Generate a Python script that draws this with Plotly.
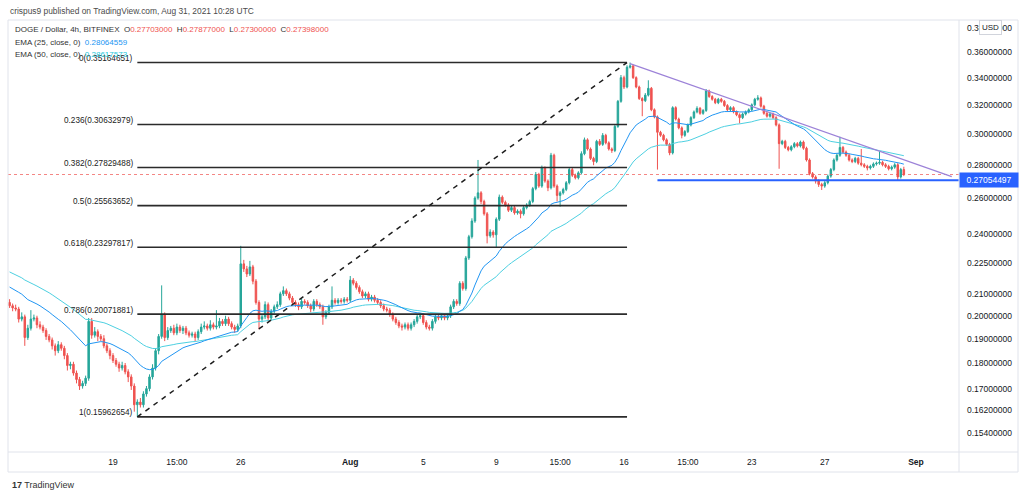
import math
import pandas as pd
import plotly.graph_objects as go

# ---------------- data ----------------
start_time = "2021-07-13 08:00"
first_open = 0.2060

closes = [
    0.2045, 0.2035, 0.2030, 0.1985, 0.1995, 0.1905, 0.1945, 0.1985, 0.1990, 0.1960,
    0.1950, 0.1935, 0.1910, 0.1895, 0.1870, 0.1850, 0.1875, 0.1860, 0.1830, 0.1790,
    0.1795, 0.1760, 0.1735, 0.1710, 0.1720, 0.1740, 0.1975, 0.1915, 0.1930, 0.1910,
    0.1900, 0.1870, 0.1850, 0.1830, 0.1810, 0.1795, 0.1780, 0.1790, 0.1765, 0.1745,
    0.1710, 0.1640, 0.1650, 0.1640, 0.1680, 0.1700, 0.1745, 0.1780, 0.1850, 0.1910,
    0.2005, 0.1905, 0.1935, 0.1945, 0.1925, 0.1950, 0.1935, 0.1945, 0.1925, 0.1915,
    0.1920, 0.1905, 0.1930, 0.1950, 0.1955, 0.1945, 0.1960, 0.1950, 0.1955, 0.1975,
    0.1965, 0.1985, 0.1965, 0.1950, 0.1940, 0.1955, 0.2245, 0.2220, 0.2195, 0.2230,
    0.2160, 0.2060, 0.1985, 0.1995, 0.2050, 0.1990, 0.2020, 0.2040, 0.2050, 0.2100,
    0.2115, 0.2100, 0.2080, 0.2060, 0.2050, 0.2040, 0.2065, 0.2060, 0.2045, 0.2030,
    0.2065, 0.2050, 0.2040, 0.1995, 0.2015, 0.2040, 0.2070, 0.2060, 0.2070, 0.2065,
    0.2075, 0.2070, 0.2165, 0.2150, 0.2130, 0.2110, 0.2090, 0.2100, 0.2075, 0.2085,
    0.2070, 0.2060, 0.2045, 0.2030, 0.2025, 0.2005, 0.1985, 0.1970, 0.1955, 0.1950,
    0.1960, 0.1945, 0.1960, 0.1975, 0.1995, 0.2000, 0.1970, 0.1950, 0.1945,
    0.1975, 0.1995, 0.1990, 0.2000, 0.1990, 0.2000, 0.2040, 0.2065, 0.2055, 0.2150,
    0.2125, 0.2275, 0.2385, 0.2470, 0.2600, 0.2630, 0.2580, 0.2510, 0.2390, 0.2410,
    0.2395, 0.2480, 0.2605, 0.2575, 0.2560, 0.2530, 0.2545, 0.2515, 0.2525, 0.2510,
    0.2545, 0.2560, 0.2580, 0.2655, 0.2740, 0.2670, 0.2780, 0.2700, 0.2660, 0.2860,
    0.2670, 0.2615, 0.2630, 0.2650, 0.2690, 0.2770, 0.2735, 0.2720, 0.2750, 0.2870,
    0.2960, 0.2900, 0.2840, 0.2820, 0.2950, 0.2930, 0.2990, 0.2940, 0.2900, 0.2890,
    0.3050, 0.3225, 0.3400, 0.3330, 0.3480, 0.3490, 0.3400, 0.3330, 0.3245, 0.3230,
    0.3270, 0.3320, 0.3165, 0.3115, 0.3010, 0.2990, 0.2960, 0.2930, 0.2875, 0.3180,
    0.3100, 0.3040, 0.2990, 0.3015, 0.3060, 0.3110, 0.3150, 0.3175, 0.3140, 0.3160,
    0.3300, 0.3260, 0.3240, 0.3215, 0.3240, 0.3225, 0.3195, 0.3165, 0.3180, 0.3150,
    0.3130, 0.3110, 0.3135, 0.3150, 0.3165, 0.3200, 0.3240, 0.3250, 0.3190, 0.3140,
    0.3120, 0.3135, 0.3110, 0.3060, 0.2935, 0.2950, 0.2910, 0.2895, 0.2915, 0.2935,
    0.2920, 0.2945, 0.2905, 0.2830, 0.2745, 0.2725, 0.2700, 0.2680, 0.2670, 0.2690,
    0.2730, 0.2770, 0.2830, 0.2860, 0.2910, 0.2880, 0.2860, 0.2830, 0.2820, 0.2840,
    0.2810, 0.2800, 0.2790, 0.2780, 0.2790, 0.2805, 0.2810, 0.2815, 0.2800, 0.2790, 0.2775,
    0.2785, 0.2800, 0.2725, 0.27703, 0.27398,
]

# wick lengths above / below the body, in thousandths of a dollar
up_wick = [
    1.5, 1, 1.5, 1, 2, 1, 1.5, 4, 1.5, 1,
    1.5, 1, 1, 1, 1, 1, 1.5, 1, 1, 1,
    1, 1, 1, 1, 1, 1, 1.5, 1.5, 2, 1,
    1, 1.5, 1, 1, 1, 1, 1, 1.5, 1, 1,
    1, 1, 1, 1.5, 1, 1, 1, 1.5, 1, 1,
    13.5, 1, 1.5, 1, 1.5, 1.5, 1, 1, 1, 1,
    1, 1, 1, 1.5, 2, 1, 2, 1, 7, 1.5,
    1, 1.5, 1, 1, 1, 1, 9.2, 2, 1.5, 3,
    1, 1, 1, 1, 1.5, 1, 1, 1, 1.5, 1,
    2, 1, 1, 1, 1, 1, 1.5, 1, 1, 1,
    1, 1, 1, 1, 1, 1, 6.5, 1, 1, 1,
    1, 1, 2, 1, 1, 1, 1, 1, 1, 1,
    1, 1, 1, 1, 1, 1, 1, 1, 1, 1,
    1, 1, 1, 1, 1, 1, 1, 1, 1,
    1, 1, 1, 1, 1, 1, 1, 1, 1, 1,
    1, 1, 1, 1.5, 1, 20, 1, 1, 1, 1.5,
    1, 1, 1.5, 1, 1, 1, 1, 1, 1, 1,
    1, 1, 1, 1, 1.5, 1, 1.5, 1, 1, 1.5,
    1, 1, 1, 1, 1, 1.5, 1, 1, 1, 1.5,
    1.5, 1, 1, 1, 1, 1.5, 1.5, 1, 1, 1,
    1, 1, 2, 1.5, 1.5, 2.65, 1, 1, 1, 1,
    1.5, 6, 1, 1, 1, 1, 1, 1, 1, 1,
    1, 1, 1, 1, 1, 1, 1, 1.5, 1, 1,
    1.5, 1, 1, 1, 1, 1, 1, 1, 1, 1,
    1, 1, 1, 1, 1, 1, 1, 2, 1, 1,
    1, 1, 1, 1, 1, 1, 1, 1, 1, 1,
    1, 1, 1, 1, 1, 1, 1, 1, 1, 1,
    1, 1, 1, 1, 7, 1, 1, 1, 1, 1,
    1, 9, 1, 1, 1, 1, 1, 7, 1, 1, 1,
    1, 1, 1, 1, 1.74,
]
down_wick = [
    1, 1.5, 1, 1.5, 1, 3.5, 1, 1, 1, 1.5,
    1, 1, 1.5, 1, 1.5, 2, 1, 1, 1.5, 2,
    1.5, 1, 1.5, 1.5, 1, 1, 1, 1.5, 1, 2,
    1, 1, 1, 1.5, 1, 1, 1.5, 1, 1, 2,
    1.5, 2.5, 4.4, 1, 1, 1, 1, 1, 1, 1.5,
    1, 1.5, 1, 1, 1, 1, 1, 1.5, 1, 1,
    1, 1.5, 1, 1, 1, 1, 1, 1, 1, 1,
    1, 1, 1, 1, 1.5, 1, 1, 1.5, 1.5, 1,
    1.5, 1, 4.5, 1.5, 1, 1.5, 1, 1, 1, 1,
    1, 1, 1, 1, 1, 1.5, 1, 1, 1, 1.5,
    1, 1, 1, 3.5, 1, 1, 1, 1, 1, 1,
    1, 1, 1, 1, 1, 1, 1, 1, 1, 1,
    1, 1, 1, 1, 1, 1, 1, 1, 1, 1.5,
    1, 1, 1, 1, 1, 1, 1, 1, 1,
    1, 1, 1, 1, 1, 1, 1, 1, 1, 1,
    1, 1, 1, 1, 1, 1, 1.5, 1, 4, 1,
    1.5, 6.5, 1, 1, 1, 1, 1, 1, 1, 2.5,
    1, 1, 1, 1, 1, 1, 1, 1, 2, 1,
    1, 3.5, 6.5, 1, 1, 1, 1, 1, 1, 1,
    1, 1, 1, 2.3, 1, 1, 1, 1, 1, 1.5,
    1, 1, 1, 1.5, 1, 1, 1, 1, 1, 11,
    1, 1, 1, 1, 24, 1, 1, 1, 1.5, 1,
    1, 1, 2, 1, 1, 1, 1, 1, 1, 1,
    1, 1, 1, 1, 1, 1, 1, 1, 1, 1,
    1, 4, 1, 1, 1, 1, 1, 1, 1, 1,
    1, 1, 1, 1, 16, 1, 1, 1, 1, 1,
    1, 1, 1, 1, 1, 1, 1.5, 1.5, 2.3, 1,
    1, 1, 1, 1, 1, 1, 1, 1, 1, 1,
    1, 1, 1, 1.5, 1, 1, 1, 1, 1, 1, 1,
    1, 1, 2, 1, 0.98,
]

ema25_seed = 0.2132   # EMA values at the first visible candle
ema50_seed = 0.2205

fib_labels = ["0", "0.236", "0.382", "0.5", "0.618", "0.786", "1"]
fib_prices = [0.35164651, 0.30632979, 0.27829488, 0.25563652,
              0.23297817, 0.20071881, 0.15962654]
fib_start = "2021-07-20 08:00"
fib_end = "2021-08-16 04:00"

trend_times = ["2021-08-16 08:00", "2021-09-02 23:00"]
trend_prices = [0.3508, 0.2727]

support_price = 0.27054497
support_start = "2021-08-17 20:00"
last_price = 0.27398

y_tick_values = [0.154, 0.162, 0.17, 0.18, 0.19, 0.20, 0.21, 0.225,
                 0.24, 0.26, 0.28, 0.30, 0.32, 0.34, 0.36, 0.38]
x_tick_times = ["2021-07-19 00:00", "2021-07-22 12:00", "2021-07-26 00:00",
                "2021-08-01 00:00", "2021-08-05 00:00", "2021-08-09 00:00",
                "2021-08-12 12:00", "2021-08-16 00:00", "2021-08-19 12:00",
                "2021-08-23 00:00", "2021-08-27 00:00", "2021-09-01 00:00"]
x_tick_labels = ["19", "15:00", "26", "<b>Aug</b>", "5", "9", "15:00", "16",
                 "15:00", "23", "27", "<b>Sep</b>"]

x_range = ["2021-07-13 05:55", "2021-09-03 08:33"]
y_range_prices = [0.14761, 0.38661]

# ---------------- derived ----------------
n = len(closes)
assert len(up_wick) == n and len(down_wick) == n
times = pd.date_range(start_time, periods=n, freq="4h")
opens = [first_open] + closes[:-1]
highs = [max(o, c) + u / 1000 for o, c, u in zip(opens, closes, up_wick)]
lows = [min(o, c) - d / 1000 for o, c, d in zip(opens, closes, down_wick)]


def ema(values, period, seed):
    a = 2 / (period + 1)
    out = [seed]
    for v in values[1:]:
        out.append(a * v + (1 - a) * out[-1])
    return out


ema25 = ema(closes, 25, ema25_seed)
ema50 = ema(closes, 50, ema50_seed)

UP = "#26a69a"
DOWN = "#ef5350"
FONT = "Liberation Sans, Arial, sans-serif"
TXT = "#131722"

fig = go.Figure()

# price line (dotted) at last close
fig.add_trace(go.Scatter(x=x_range, y=[last_price, last_price], mode="lines",
                         line=dict(color="rgba(239,83,80,0.7)", width=1, dash="dot"),
                         hoverinfo="skip"))

fig.add_trace(go.Scatter(x=times, y=ema50, mode="lines",
                         line=dict(color="#4dd0e1", width=1), hoverinfo="skip"))
fig.add_trace(go.Scatter(x=times, y=ema25, mode="lines",
                         line=dict(color="#2196f3", width=1), hoverinfo="skip"))

fig.add_trace(go.Candlestick(
    x=times, open=opens, high=highs, low=lows, close=closes,
    increasing=dict(line=dict(color=UP, width=1), fillcolor=UP),
    decreasing=dict(line=dict(color=DOWN, width=1), fillcolor=DOWN),
    whiskerwidth=0, hoverinfo="skip"))

# fib levels
for p in fib_prices:
    fig.add_trace(go.Scatter(x=[fib_start, fib_end], y=[p, p], mode="lines",
                             line=dict(color="#2b2b2b", width=1.6), hoverinfo="skip"))
fig.add_trace(go.Scatter(x=[fib_start, fib_end], y=[fib_prices[-1], fib_prices[0]],
                         mode="lines", line=dict(color="#1e1e1e", width=1.5, dash="5px,5px"),
                         hoverinfo="skip"))

# trend line
fig.add_trace(go.Scatter(x=trend_times, y=trend_prices, mode="lines",
                         line=dict(color="#9c82d8", width=1.2), hoverinfo="skip"))
# support line
fig.add_trace(go.Scatter(x=[support_start, x_range[1]], y=[support_price, support_price],
                         mode="lines", line=dict(color="#2962ff", width=2), hoverinfo="skip"))

annotations = []
for lab, p in zip(fib_labels, fib_prices):
    annotations.append(dict(x=fib_start, y=math.log10(p), xref="x", yref="y",
                            text=f"{lab}({p:.8f})", showarrow=False,
                            xanchor="right", yanchor="middle", xshift=-2, yshift=4,
                            font=dict(family=FONT, size=8.2, color="#222")))


def px_x(p):
    return (p - 8) / 951


def px_y(p):
    return (452 - p) / 432


annotations.append(dict(x=0, y=px_y(11), xref="paper", yref="paper",
                        text="crispus9 published on TradingView.com, Aug 31, 2021 10:28 UTC",
                        showarrow=False, xanchor="left", yanchor="middle",
                        font=dict(family=FONT, size=8.4, color="#4a4a4a")))

red = lambda s: f'<span style="color:{DOWN}">{s}</span>'
nb = "\u00a0"
line1 = ("DOGE / Dollar, 4h, BITFINEX" + nb * 2 + "O" + red("0.27703000") + nb * 2 + "H" +
         red("0.27877000") + nb * 2 + "L" + red("0.27300000") + nb * 2 + "C" + red("0.27398000"))
annotations.append(dict(x=px_x(13), y=px_y(30), xref="paper", yref="paper", text=line1,
                        showarrow=False, xanchor="left", yanchor="middle",
                        font=dict(family=FONT, size=8, color="#333")))
annotations.append(dict(x=px_x(13), y=px_y(42), xref="paper", yref="paper",
                        text="EMA (25, close, 0)" + nb * 2 + '<span style="color:#2196f3">0.28064559</span>',
                        showarrow=False, xanchor="left", yanchor="middle",
                        font=dict(family=FONT, size=8, color="#333")))
annotations.append(dict(x=px_x(13), y=px_y(54), xref="paper", yref="paper",
                        text="EMA (50, close, 0)" + nb * 2 + '<span style="color:#26c6da">0.28617573</span>',
                        showarrow=False, xanchor="left", yanchor="middle",
                        font=dict(family=FONT, size=8, color="#333")))

# axis label for support line
annotations.append(dict(x=1, y=math.log10(support_price), xref="paper", yref="y",
                        text=f"{support_price:.8f}", showarrow=False, xanchor="left",
                        yanchor="middle", bgcolor="#2962ff", width=54, borderpad=2,
                        font=dict(family=FONT, size=8.5, color="white")))
# USD box
annotations.append(dict(x=px_x(990), y=px_y(28), xref="paper", yref="paper", text="USD",
                        showarrow=False, xanchor="center", yanchor="middle",
                        bgcolor="white", bordercolor="#d1d4dc", borderwidth=1, borderpad=2,
                        font=dict(family=FONT, size=8, color=TXT)))
# TradingView footer
annotations.append(dict(x=px_x(10), y=px_y(485), xref="paper", yref="paper",
                        text="<b>17</b> TradingView", showarrow=False, xanchor="left",
                        yanchor="middle", font=dict(family=FONT, size=9, color="#333")))

frame = "#e0e3eb"
shapes = [
    dict(type="rect", xref="paper", yref="paper", x0=0, x1=px_x(1018), y0=px_y(472), y1=1,
         line=dict(color=frame, width=1)),
    dict(type="line", xref="paper", yref="paper", x0=1, x1=1, y0=px_y(472), y1=1,
         line=dict(color=frame, width=1)),
    dict(type="line", xref="paper", yref="paper", x0=0, x1=px_x(1018), y0=0, y1=0,
         line=dict(color=frame, width=1)),
]

fig.update_layout(
    width=1024, height=497,
    margin=dict(l=8, r=65, t=20, b=45),
    paper_bgcolor="white", plot_bgcolor="white",
    showlegend=False, hovermode=False,
    font=dict(family=FONT, size=8.5, color=TXT),
    annotations=annotations, shapes=shapes,
    xaxis=dict(type="date", range=x_range, rangeslider=dict(visible=False),
               showgrid=False, zeroline=False, showline=False,
               tickvals=x_tick_times, ticktext=x_tick_labels, ticks="",
               tickfont=dict(family=FONT, size=8.5, color=TXT), ticklabelstandoff=3),
    yaxis=dict(type="log", side="right",
               range=[math.log10(y_range_prices[0]), math.log10(y_range_prices[1])],
               showgrid=False, zeroline=False, showline=False,
               tickvals=y_tick_values, ticktext=[f"{v:.8f}" for v in y_tick_values],
               ticks="", tickfont=dict(family=FONT, size=8.5, color=TXT),
               ticklabelstandoff=7),
)

fig.write_html("out.html", config={"displayModeBar": False},
               post_script="document.body.style.margin='0';document.body.style.overflow='hidden';")
